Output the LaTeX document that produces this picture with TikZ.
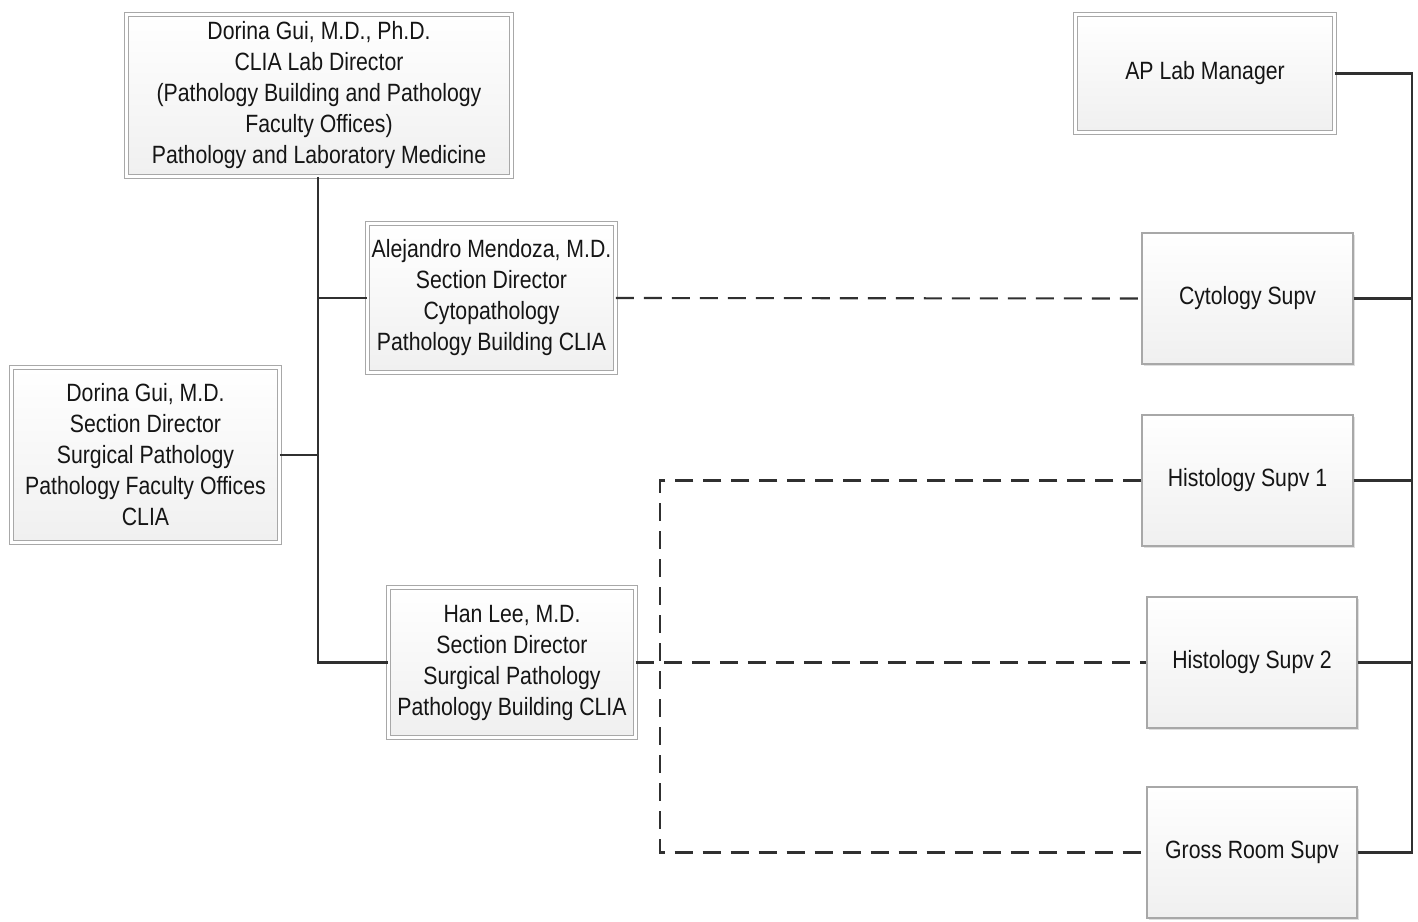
\documentclass[tikz,border=0pt]{standalone}
\usepackage{fontspec}
\setmainfont{Liberation Sans}[FakeStretch=0.85]
\usetikzlibrary{shadows}
\definecolor{boxline}{HTML}{A8A8A8}
\definecolor{conn}{HTML}{303030}
\definecolor{txt}{HTML}{151515}
\tikzset{
  basebox/.style={inner sep=0pt, align=center, text=txt,
    font=\fontsize{25}{31}\selectfont,
    top color=white, bottom color=gray!12,
    drop shadow={shadow xshift=2pt, shadow yshift=-2pt, opacity=0.25}},
  dblbox/.style={basebox, draw=boxline, line width=0.9pt, double=white, double distance=3pt},
  sglbox/.style={basebox, draw=boxline, line width=1.1pt},
  solidline/.style={draw=conn, line width=2.1pt},
  dashline/.style={draw=conn, line width=2.1pt, dash pattern=on 18pt off 10pt}
}
\begin{document}
\begin{tikzpicture}[x=1pt, y=-1pt]
\useasboundingbox (0,0) rectangle (1418,921);
% double-bordered boxes
\node[dblbox, minimum width=385pt, minimum height=162pt] (top) at (319,95.5)
  {Dorina Gui, M.D., Ph.D.\\CLIA Lab Director\\(Pathology Building and Pathology\\Faculty Offices)\\Pathology and Laboratory Medicine};
\node[dblbox, minimum width=248pt, minimum height=149pt] (am) at (491.5,298)
  {Alejandro Mendoza, M.D.\\Section Director\\Cytopathology\\Pathology Building CLIA};
\node[dblbox, minimum width=268pt, minimum height=175pt] (dm) at (145.5,455)
  {Dorina Gui, M.D.\\Section Director\\Surgical Pathology\\Pathology Faculty Offices\\CLIA};
\node[dblbox, minimum width=247pt, minimum height=150pt] (hl) at (512,662.5)
  {Han Lee, M.D.\\Section Director\\Surgical Pathology\\Pathology Building CLIA};
\node[dblbox, minimum width=259pt, minimum height=118pt] (ap) at (1205,73.5)
  {AP Lab Manager};
% single-bordered boxes
\node[sglbox, minimum width=211pt, minimum height=131pt] (cy) at (1247.5,298.5) {Cytology Supv};
\node[sglbox, minimum width=211pt, minimum height=131pt] (h1) at (1247.5,480.5) {Histology Supv 1};
\node[sglbox, minimum width=210pt, minimum height=131pt] (h2) at (1252,662.5) {Histology Supv 2};
\node[sglbox, minimum width=210pt, minimum height=131pt] (gr) at (1252,852.5) {Gross Room Supv};
% helper coordinates
\coordinate (trunk) at (318,0);
\coordinate (bus) at (1412,0);
\coordinate (dx) at (660,0);
% solid left tree
\draw[solidline] (top.south -| trunk) -- (hl.west -| trunk) -- (hl.west);
\draw[solidline] (am.west -| trunk) -- (am.west);
\draw[solidline] (dm.east) -- (dm.east -| trunk);
% solid right bus
\draw[solidline] (ap.east) -- (ap.east -| bus) -- (gr.east -| bus) -- (gr.east);
\draw[solidline] (cy.east) -- (cy.east -| bus);
\draw[solidline] (h1.east) -- (h1.east -| bus);
\draw[solidline] (h2.east) -- (h2.east -| bus);
% dashed links
\draw[dashline] (am.east) -- (cy.west);
\draw[dashline] (hl.east) -- (h2.west);
\draw[dashline] (h1.west) -- (h1.west -| dx) -- (gr.west -| dx) -- (gr.west);
\end{tikzpicture}
\end{document}
